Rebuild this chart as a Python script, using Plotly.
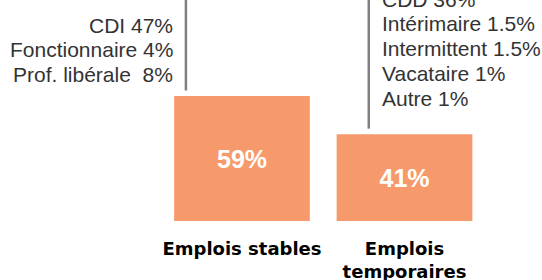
import plotly.graph_objects as go

categories = ["Emplois stables", "Emplois<br>temporaires"]
values = [59, 41]
value_labels = ["59%", "41%"]
stable_details = ["CDI 47%", "Fonctionnaire 4%", "Prof. libérale  8%"]
temp_details = ["CDD 36%", "Intérimaire 1.5%", "Intermittent 1.5%", "Vacataire 1%", "Autre 1%"]

W, H = 542, 280
PLOT_H = 221
BAR = "#F79A6B"
GREY = "#808080"
TXT = "#333333"

fig = go.Figure()
fig.add_trace(go.Bar(
    x=categories, y=values, marker=dict(color=BAR, line=dict(width=0)),
    text=value_labels, textposition="inside", insidetextanchor="middle",
    textfont=dict(family="Liberation Sans, Arial", size=25, color="white", weight="bold"),
    hoverinfo="skip", width=0.835, cliponaxis=False,
))

ymax = PLOT_H / 125 * 59

# connector lines (from a little above each bar to the top)
line_x = [-0.345, 0.78]
for lx, v in zip(line_x, values):
    fig.add_shape(type="line", xref="x", yref="y", x0=lx, x1=lx, y0=v + 2.6, y1=ymax + 5,
                  line=dict(color=GREY, width=2.5))

def ypaper(px):
    return (PLOT_H - px) / PLOT_H

ann = []
left_y = [25, 49.5, 74]
for t, yp in zip(stable_details, left_y):
    ann.append(dict(text=t, x=175 / W, y=ypaper(yp), xref="paper", yref="paper",
                    xanchor="right", yanchor="middle", showarrow=False,
                    font=dict(family="Liberation Sans, Arial", size=21, color=TXT)))
right_y = [-1, 23.5, 48.5, 73.5, 98.5]
for t, yp in zip(temp_details, right_y):
    ann.append(dict(text=t, x=380 / W, y=ypaper(yp), xref="paper", yref="paper",
                    xanchor="left", yanchor="middle", showarrow=False,
                    font=dict(family="Liberation Sans, Arial", size=21, color=TXT)))

fig.update_layout(
    width=W, height=H, margin=dict(l=0, r=0, t=0, b=H - PLOT_H, pad=0, autoexpand=False),
    paper_bgcolor="white", plot_bgcolor="white", showlegend=False,
    annotations=ann, hovermode=False,
    xaxis=dict(type="category", range=[-1.489, 1.846], showgrid=False, zeroline=False,
               showline=False, ticks="", ticklabelstandoff=15, automargin=False,
               tickfont=dict(family="DejaVu Sans", size=18, color="black", weight="bold")),
    yaxis=dict(range=[0, ymax], visible=False, showgrid=False, zeroline=False, automargin=False),
)

fig.write_html("out.html", config={"displayModeBar": False, "staticPlot": True},
               post_script="document.body.style.margin='0';document.body.style.overflow='hidden';")
